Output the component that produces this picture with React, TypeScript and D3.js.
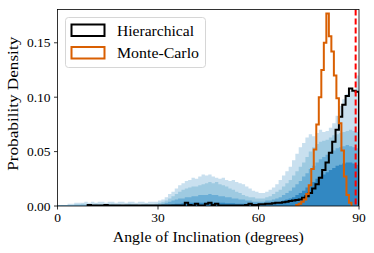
import React from "react";
import * as d3 from "d3";

// 1-degree bins, 0..90
const blueLayer1 = [
  0.000, 0.001, 0.001, 0.002, 0.002, 0.003, 0.003, 0.003, 0.004, 0.003,
  0.004, 0.003, 0.004, 0.004, 0.003, 0.004, 0.004, 0.003, 0.004, 0.004,
  0.003, 0.004, 0.004, 0.003, 0.004, 0.004, 0.003, 0.004, 0.004, 0.004,
  0.005, 0.006, 0.008, 0.011, 0.013, 0.016, 0.019, 0.021, 0.023, 0.024,
  0.026, 0.025, 0.027, 0.029, 0.028, 0.029, 0.027, 0.026, 0.025, 0.026,
  0.024, 0.023, 0.024, 0.022, 0.021, 0.020, 0.018, 0.016, 0.014, 0.013,
  0.012, 0.012, 0.013, 0.015, 0.017, 0.020, 0.024, 0.028, 0.032, 0.036,
  0.042, 0.048, 0.054, 0.058, 0.063, 0.066, 0.064, 0.067, 0.070, 0.068,
  0.069, 0.072, 0.076, 0.083, 0.092, 0.098, 0.103, 0.106, 0.105, 0.120,
];
const blueLayer2 = [
  0.0005, 0.0005, 0.0005, 0.0005, 0.0005, 0.0015, 0.0015, 0.002, 0.0015, 0.001,
  0.0015, 0.002, 0.0015, 0.0015, 0.001, 0.0015, 0.002, 0.0015, 0.0015, 0.001,
  0.0015, 0.002, 0.0015, 0.0015, 0.001, 0.0015, 0.002, 0.0015, 0.0015, 0.002,
  0.003, 0.004, 0.005, 0.007, 0.009, 0.011, 0.013, 0.015, 0.016, 0.017,
  0.018, 0.018, 0.019, 0.020, 0.021, 0.022, 0.021, 0.022, 0.020, 0.019,
  0.018, 0.016, 0.015, 0.013, 0.012, 0.010, 0.009, 0.008, 0.008, 0.007,
  0.007, 0.007, 0.008, 0.009, 0.011, 0.013, 0.015, 0.018, 0.021, 0.024,
  0.028, 0.032, 0.036, 0.040, 0.045, 0.050, 0.054, 0.057, 0.059, 0.060,
  0.061, 0.063, 0.065, 0.066, 0.067, 0.068, 0.069, 0.070, 0.069, 0.068,
];
const blueLayer3 = [
  0.0008, 0.0008, 0.0008, 0.0008, 0.0008, 0.0008, 0.0008, 0.0008, 0.0008, 0.0008,
  0.0008, 0.0008, 0.0008, 0.0008, 0.0008, 0.0008, 0.0008, 0.0008, 0.0008, 0.0008,
  0.0008, 0.0008, 0.0008, 0.0008, 0.0008, 0.0008, 0.0008, 0.0008, 0.0008, 0.0008,
  0.001, 0.002, 0.003, 0.004, 0.005, 0.006, 0.007, 0.007, 0.008, 0.008,
  0.009, 0.009, 0.010, 0.010, 0.010, 0.011, 0.010, 0.010, 0.009, 0.009,
  0.008, 0.008, 0.007, 0.007, 0.006, 0.006, 0.005, 0.005, 0.004, 0.004,
  0.004, 0.004, 0.005, 0.005, 0.006, 0.007, 0.008, 0.010, 0.012, 0.014,
  0.017, 0.020, 0.023, 0.027, 0.030, 0.034, 0.037, 0.040, 0.043, 0.045,
  0.047, 0.049, 0.051, 0.053, 0.054, 0.055, 0.056, 0.055, 0.054, 0.053,
];
const blueLayer4 = [
  0, 0, 0, 0, 0, 0, 0, 0, 0, 0,
  0, 0, 0, 0, 0, 0, 0, 0, 0, 0,
  0, 0, 0, 0, 0, 0, 0, 0, 0, 0,
  0.0005, 0.0008, 0.001, 0.0012, 0.0015, 0.002, 0.002, 0.0025, 0.0025, 0.003,
  0.003, 0.003, 0.003, 0.003, 0.003, 0.003, 0.003, 0.003, 0.003, 0.003,
  0.0025, 0.0025, 0.0025, 0.002, 0.002, 0.002, 0.002, 0.002, 0.002, 0.002,
  0.002, 0.002, 0.002, 0.003, 0.003, 0.003, 0.004, 0.005, 0.006, 0.007,
  0.008, 0.010, 0.012, 0.014, 0.017, 0.019, 0.022, 0.025, 0.027, 0.029,
  0.031, 0.033, 0.035, 0.037, 0.038, 0.039, 0.040, 0.040, 0.039, 0.038,
];
const hierarchical = [
  0, 0, 0, 0, 0, 0, 0, 0, 0, 0.001,
  0.0005, 0.0005, 0.0005, 0.0005, 0.001, 0.0005, 0.0005, 0.0005, 0.0005, 0.0005,
  0.0005, 0.0005, 0.0005, 0.0005, 0.0005, 0.0005, 0.0005, 0.0005, 0.0005, 0.0005,
  0.0005, 0.0005, 0.0005, 0.0005, 0.0005, 0.0005, 0.0005, 0.0005, 0.003, 0.001,
  0.0005, 0.002, 0.0005, 0.0005, 0.002, 0.003, 0.001, 0.002, 0.0005, 0.0005,
  0.0005, 0.0005, 0.0005, 0.0005, 0.0005, 0.0005, 0.001, 0.002, 0.001, 0.001,
  0.0015, 0.0015, 0.002, 0.002, 0.0025, 0.003, 0.003, 0.0035, 0.004, 0.0045,
  0.005, 0.0055, 0.006, 0.0075, 0.009, 0.012, 0.016, 0.020, 0.026, 0.033,
  0.040, 0.049, 0.059, 0.070, 0.082, 0.093, 0.101, 0.108, 0.106, 0.105,
];
// 0.75-degree bins starting at 71.25
const monteCarloStart = 71.25;
const monteCarloWidth = 0.75;
const monteCarlo = [
  0.001, 0.002, 0.004, 0.006, 0.011, 0.019, 0.034, 0.052, 0.075, 0.100,
  0.125, 0.150, 0.177, 0.156, 0.142, 0.120, 0.099, 0.076, 0.051, 0.027,
  0.010, 0.003,
];
const inclinationLine = 89;
const xTicks = [0, 30, 60, 90];
const yTicks = [0, 0.05, 0.1, 0.15];
const legendLabels = ["Hierarchical", "Monte-Carlo"];

const W = 374, H = 253;
const left = 57.5, right = 359, top = 9.5, bottom = 206;
const FONT = "'Liberation Serif', 'DejaVu Serif', serif";

const x = d3.scaleLinear().domain([0, 90]).range([left, right]);
const y = d3.scaleLinear().domain([0, 0.1806]).range([bottom, top]);

type Pt = [number, number];
function stepPoints(vals: number[], start: number, width: number): Pt[] {
  const pts: Pt[] = [[start, 0]];
  vals.forEach((v, i) => pts.push([start + i * width, v]));
  const end = start + vals.length * width;
  pts.push([end, vals[vals.length - 1]]);
  pts.push([end, 0]);
  return pts;
}
const stepLine = d3
  .line<Pt>()
  .x((d) => x(d[0]))
  .y((d) => y(d[1]))
  .curve(d3.curveStepAfter);
const stepArea = d3
  .area<Pt>()
  .x((d) => x(d[0]))
  .y0(y(0))
  .y1((d) => y(d[1]))
  .curve(d3.curveStepAfter);

const blueLayers = [
  { vals: blueLayer1, color: "#c9e0ef" },
  { vals: blueLayer2, color: "#9ecae1" },
  { vals: blueLayer3, color: "#6baed6" },
  { vals: blueLayer4, color: "#3288c2" },
];

export default function App() {
  const firstNZ = hierarchical.findIndex((v) => v > 0);
  const hierPts = stepPoints(hierarchical.slice(firstNZ), firstNZ, 1);
  const mcPts = stepPoints(monteCarlo, monteCarloStart, monteCarloWidth);
  return (
    <svg
      width={W}
      height={H}
      style={{ position: "absolute", left: 0, top: 0, background: "#fff" }}
      fontFamily={FONT}
    >
      <defs>
        <clipPath id="plot">
          <rect x={left} y={top} width={right - left} height={bottom - top} />
        </clipPath>
      </defs>
      <g clipPath="url(#plot)">
        {blueLayers.map((l, i) => (
          <path key={i} d={stepArea(stepPoints(l.vals, 0, 1)) || ""} fill={l.color} stroke="none" />
        ))}
        <path d={stepLine(hierPts) || ""} fill="none" stroke="#000" strokeWidth={2} strokeLinejoin="miter" />
        <path d={stepLine(mcPts) || ""} fill="none" stroke="#d95f02" strokeWidth={2} strokeLinejoin="miter" />
        <line
          x1={x(inclinationLine)}
          x2={x(inclinationLine)}
          y1={top}
          y2={bottom}
          stroke="#ff0000"
          strokeWidth={2}
          strokeDasharray="6,3"
        />
      </g>
      {/* spines */}
      <rect x={left} y={top} width={right - left} height={bottom - top} fill="none" stroke="#000" strokeWidth={0.8} />
      {/* ticks */}
      {xTicks.map((t) => (
        <g key={"x" + t}>
          <line x1={x(t)} x2={x(t)} y1={bottom} y2={bottom + 3.5} stroke="#000" strokeWidth={0.8} />
          <text x={x(t)} y={222} textAnchor="middle" fontSize={13.5} fill="#000">
            {t}
          </text>
        </g>
      ))}
      {yTicks.map((t) => (
        <g key={"y" + t}>
          <line x1={left - 3.5} x2={left} y1={y(t)} y2={y(t)} stroke="#000" strokeWidth={0.8} />
          <text x={50.5} y={y(t) + 4.5} textAnchor="end" fontSize={13.5} fill="#000">
            {t.toFixed(2)}
          </text>
        </g>
      ))}
      <text x={(left + right) / 2} y={242} textAnchor="middle" fontSize={15.5} fill="#000" textLength={191} lengthAdjust="spacingAndGlyphs">
        Angle of Inclination (degrees)
      </text>
      <text
        transform={`translate(17.5,${(top + bottom) / 2 - 4}) rotate(-90)`}
        textAnchor="middle"
        fontSize={15.5}
        fill="#000"
        textLength={134}
        lengthAdjust="spacingAndGlyphs"
      >
        Probability Density
      </text>
      {/* legend */}
      <rect x={65.5} y={17.5} width={140} height={50} rx={3} fill="#fff" fillOpacity={0.8} stroke="#cccccc" strokeWidth={0.8} />
      <rect x={71.5} y={24.5} width={33} height={11.5} fill="none" stroke="#000" strokeWidth={2} />
      <rect x={71.5} y={47} width={33} height={11.5} fill="none" stroke="#d95f02" strokeWidth={2} />
      <text x={117} y={35.5} fontSize={15.5} fill="#000" textLength={77} lengthAdjust="spacingAndGlyphs">
        {legendLabels[0]}
      </text>
      <text x={117} y={58} fontSize={15.5} fill="#000" textLength={82} lengthAdjust="spacingAndGlyphs">
        {legendLabels[1]}
      </text>
    </svg>
  );
}
